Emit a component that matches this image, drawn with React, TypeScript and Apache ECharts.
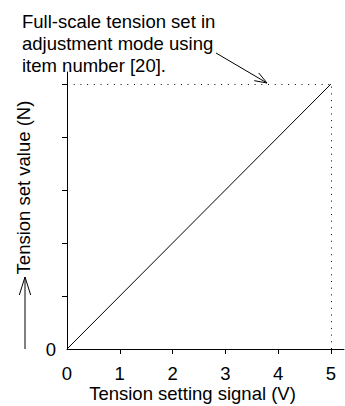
import React, { useEffect, useRef } from "react";
import * as echarts from "echarts";

// Data (tension in full-scale tick units, signal in volts)
const signalV = [0, 5];
const tensionSet = [0, 5];
const xTicks = [1, 2, 3, 4, 5];
const xTickLabels = [0, 1, 2, 3, 4, 5];
const yTicks = [1, 2, 3, 4, 5];
const yTickLabels = [0];
const fullScaleSignal = 5;
const fullScaleTension = 5;
const noteLines = ["Full-scale tension set in", "adjustment mode using", "item number [20]."];
const xName = "Tension setting signal (V)";
const yName = "Tension set value (N)";

const FONT = "'Liberation Sans', Arial, Helvetica, sans-serif";
const FS = 18.5;

export default function App() {
  const ref = useRef<HTMLDivElement>(null);
  useEffect(() => {
    if (!ref.current) return;
    const chart = echarts.init(ref.current, null, { renderer: "svg" });
    const tip = [267, 83];
    const tail = [216, 53];
    const ang = Math.atan2(tip[1] - tail[1], tip[0] - tail[0]);
    const hl = 13, ha = 0.35;
    const w1 = [tip[0] - hl * Math.cos(ang - ha), tip[1] - hl * Math.sin(ang - ha)];
    const w2 = [tip[0] - hl * Math.cos(ang + ha), tip[1] - hl * Math.sin(ang + ha)];
    chart.setOption({
      animation: false,
      textStyle: { fontFamily: FONT },
      grid: { left: 67, right: 1, top: 72, bottom: 57, containLabel: false, outerBoundsMode: "none" },
      xAxis: {
        type: "value",
        min: 0,
        max: 5.25,
        interval: 1,
        splitLine: { show: false },
        axisLine: { lineStyle: { color: "#000", width: 1 } },
        axisTick: { show: true, length: 5, customValues: xTicks, lineStyle: { color: "#000" } },
        axisLabel: { customValues: xTickLabels, color: "#000", fontSize: FS, lineHeight: 17, margin: 16, fontFamily: FONT },
        name: xName,
        nameLocation: "middle",
        nameGap: 35,
        nameMoveOverlap: false,
        nameTextStyle: { color: "#000", fontSize: FS, lineHeight: 18, fontFamily: FONT, padding: [0, 26, 0, 0] },
      },
      yAxis: {
        type: "value",
        min: 0,
        max: 5.23,
        interval: 1,
        splitLine: { show: false },
        axisLine: { show: true, lineStyle: { color: "#000", width: 1 } },
        axisTick: { show: true, length: 5, customValues: yTicks, lineStyle: { color: "#000" } },
        axisLabel: { customValues: yTickLabels, color: "#000", fontSize: FS, margin: 11, fontFamily: FONT },
        name: yName,
        nameLocation: "middle",
        nameGap: 34,
        nameMoveOverlap: false,
        nameTextStyle: { color: "#000", fontSize: FS, fontFamily: FONT, padding: [0, 0, 0, 46] },
      },
      series: [
        {
          type: "line",
          data: signalV.map((v, i) => [v, tensionSet[i]]),
          symbol: "none",
          lineStyle: { color: "#000", width: 1 },
          markLine: {
            silent: true,
            symbol: "none",
            label: { show: false },
            lineStyle: { color: "#000", width: 1, type: [1, 5.7] },
            data: [
              [{ coord: [0, fullScaleTension] }, { coord: [fullScaleSignal, fullScaleTension] }],
              [{ coord: [fullScaleSignal, 0] }, { coord: [fullScaleSignal, fullScaleTension] }],
            ],
          },
        },
      ],
      graphic: [
        {
          type: "text",
          left: 22,
          top: 10,
          style: {
            text: noteLines.join("\n"),
            fontSize: FS,
            lineHeight: 22,
            fontFamily: FONT,
            fill: "#000",
          },
        },
        {
          type: "line",
          shape: { x1: tail[0], y1: tail[1], x2: tip[0], y2: tip[1] },
          style: { stroke: "#000", lineWidth: 1 },
        },
        {
          type: "polyline",
          shape: { points: [w1, tip, w2] },
          style: { stroke: "#000", lineWidth: 1, fill: "none" },
        },
        {
          type: "line",
          shape: { x1: 25, y1: 349, x2: 25, y2: 277 },
          style: { stroke: "#000", lineWidth: 1 },
        },
        {
          type: "polyline",
          shape: { points: [[19.3, 295], [25, 277], [30.7, 295]] },
          style: { stroke: "#000", lineWidth: 1, fill: "none" },
        },
      ],
    });
    return () => chart.dispose();
  }, []);
  return (
    <div
      ref={ref}
      style={{ position: "fixed", left: 0, top: 0, width: 345, height: 406, background: "#fff" }}
    />
  );
}
